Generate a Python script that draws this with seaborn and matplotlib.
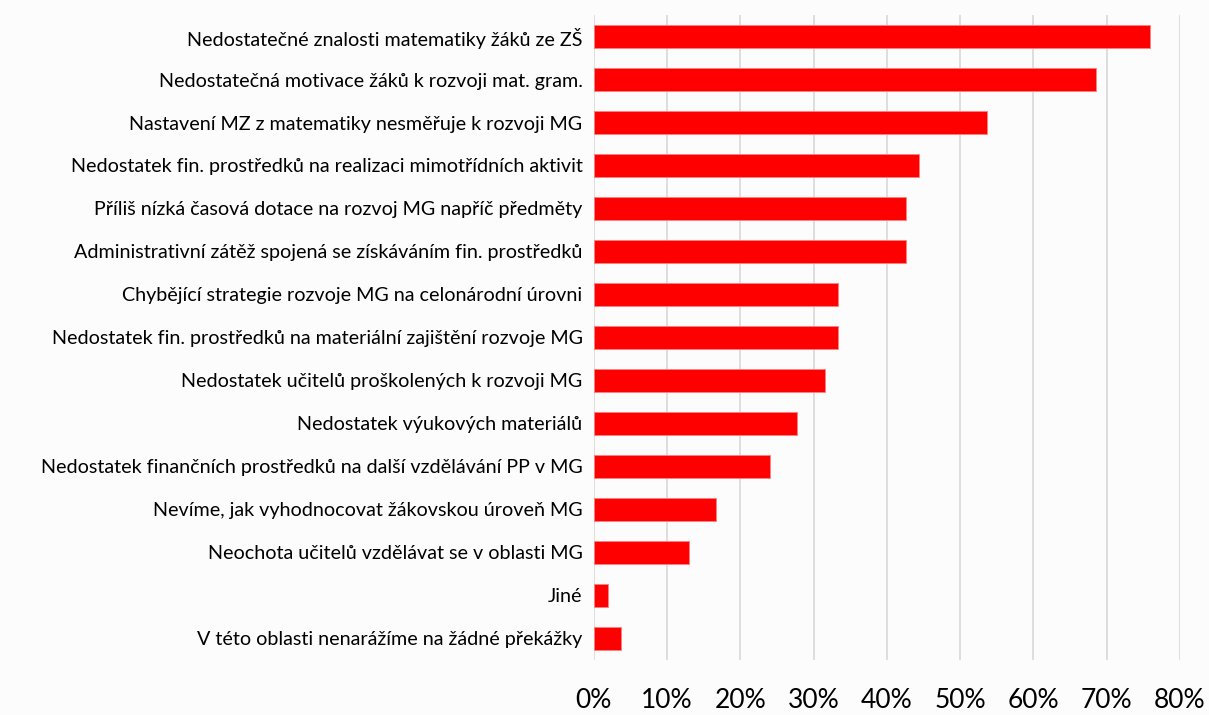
import matplotlib.pyplot as plt
import seaborn as sns
import pandas as pd
from matplotlib.ticker import PercentFormatter

categories = [
    "Nedostatečné znalosti matematiky žáků ze ZŠ",
    "Nedostatečná motivace žáků k rozvoji mat. gram.",
    "Nastavení MZ z matematiky nesměřuje k rozvoji MG",
    "Nedostatek fin. prostředků na realizaci mimotřídních aktivit",
    "Příliš nízká časová dotace na rozvoj MG napříč předměty",
    "Administrativní zátěž spojená se získáváním fin. prostředků",
    "Chybějící strategie rozvoje MG na celonárodní úrovni",
    "Nedostatek fin. prostředků na materiální zajištění rozvoje MG",
    "Nedostatek učitelů proškolených k rozvoji MG",
    "Nedostatek výukových materiálů",
    "Nedostatek finančních prostředků na další vzdělávání PP v MG",
    "Nevíme, jak vyhodnocovat žákovskou úroveň MG",
    "Neochota učitelů vzdělávat se v oblasti MG",
    "Jiné",
    "V této oblasti nenarážíme na žádné překážky",
]
shares = [75.9, 68.5, 53.7, 44.4, 42.6, 42.6, 33.3, 33.3, 31.5, 27.8, 24.1, 16.7, 13.0, 1.9, 3.7]

df = pd.DataFrame({"category": categories, "share": shares})

sns.set_theme(style="white")
plt.rcParams["font.family"] = ["Lato", "DejaVu Sans"]

fig = plt.figure(figsize=(12.09, 7.15), dpi=100, facecolor="#fcfcfc")
ax = fig.add_axes([0.491, 0.077, 0.485, 0.902])
ax.set_facecolor("#fcfcfc")

sns.barplot(data=df, x="share", y="category", color="#ff0000", width=0.55,
            edgecolor="#ff8080", linewidth=0.6, saturation=1, ax=ax)

ax.set_xlim(0, 80)
ax.set_xticks(range(0, 81, 10))
ax.xaxis.set_major_formatter(PercentFormatter(decimals=0))
ax.grid(axis="x", color="#d9d9d9", linewidth=1.2)
ax.set_axisbelow(True)
for s in ax.spines.values():
    s.set_visible(False)
ax.set_xlabel("")
ax.set_ylabel("")
ax.tick_params(axis="x", labelsize=19, pad=20, length=0, colors="black")
ax.tick_params(axis="y", labelsize=14.2, pad=8, length=0, colors="black")

fig.savefig("out.png", dpi=100, facecolor=fig.get_facecolor())
